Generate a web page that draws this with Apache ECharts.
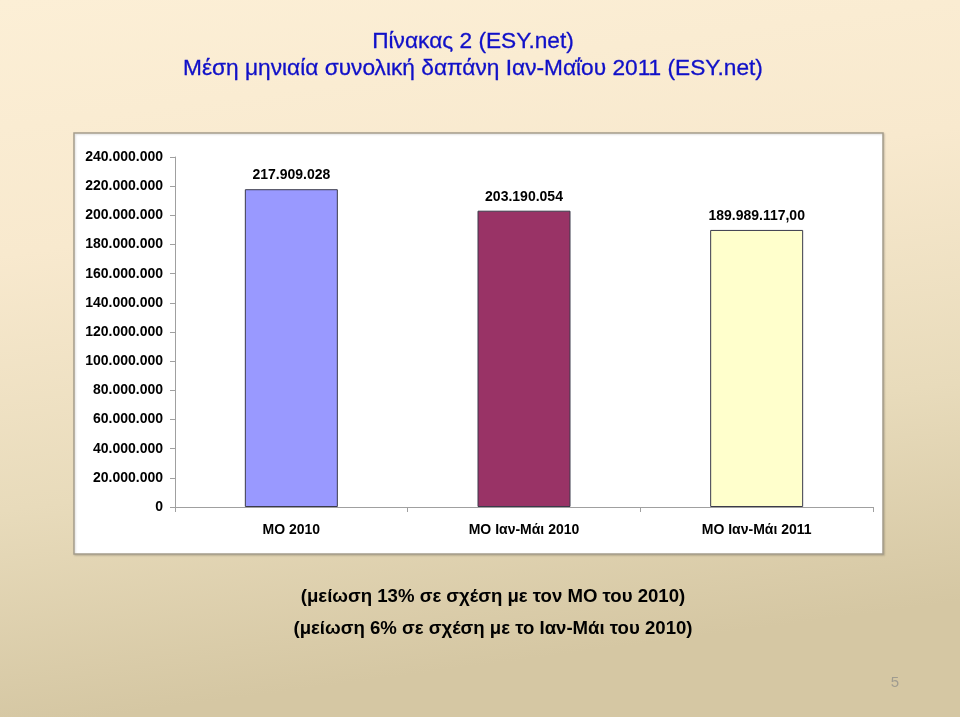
<!DOCTYPE html>
<html><head><meta charset="utf-8">
<script src="https://cdn.jsdelivr.net/npm/echarts@6/dist/echarts.min.js"></script>
<style>html,body{margin:0;padding:0;}#c{width:960px;height:717px;}</style>
</head><body><div id="c"></div>
<script>
var categories = ['ΜΟ 2010', 'ΜΟ Ιαν-Μάι 2010', 'ΜΟ Ιαν-Μάι 2011'];
var values = [217909028, 203190054, 189989117];
var labelDecimals = [0, 0, 2];
var barColors = ['#9999ff', '#993366', '#ffffcc'];
var titleLines = ['Πίνακας 2 (ESY.net)', 'Μέση μηνιαία συνολική δαπάνη Ιαν-Μαΐου 2011 (ESY.net)'];
var noteLines = ['(μείωση 13% σε σχέση με τον ΜΟ του 2010)', '(μείωση 6% σε σχέση με το Ιαν-Μάι του 2010)'];
var pageNumber = '5';

function fmt(v, dec) {
  var s = Math.round(v).toString().replace(/\B(?=(\d{3})+(?!\d))/g, '.');
  if (dec) s += ',' + '0'.repeat(dec);
  return s;
}

var chart = echarts.init(document.getElementById('c'));
var font = 'Liberation Sans, Arial, sans-serif';
chart.setOption({
  backgroundColor: {
    type: 'linear', x: 0, y: 0, x2: 0.1, y2: 1,
    colorStops: [
      {offset: 0, color: '#fcefd6'},
      {offset: 0.35, color: '#f8e9ce'},
      {offset: 0.7, color: '#e8dbbb'},
      {offset: 1, color: '#d5c7a3'}
    ]
  },
  title: [
    {text: titleLines[0], left: 473, top: 30.5, textAlign: 'center', padding: 0,
     textStyle: {color: '#1010c8', fontSize: 22.7, fontWeight: 'normal', fontFamily: font,
                 textBorderColor: '#1010c8', textBorderWidth: 0.3}},
    {text: titleLines[1], left: 473, top: 57.5, textAlign: 'center', padding: 0,
     textStyle: {color: '#1010c8', fontSize: 22.7, fontWeight: 'normal', fontFamily: font,
                 textBorderColor: '#1010c8', textBorderWidth: 0.3}},
    {text: noteLines[0], left: 493, top: 587, textAlign: 'center', padding: 0,
     textStyle: {color: '#000', fontSize: 18.6, fontWeight: 'bold', fontFamily: font}},
    {text: noteLines[1], left: 493, top: 619, textAlign: 'center', padding: 0,
     textStyle: {color: '#000', fontSize: 18.6, fontWeight: 'bold', fontFamily: font}},
    {text: pageNumber, left: 895, top: 675, textAlign: 'center', padding: 0,
     textStyle: {color: '#a09c90', fontSize: 15, fontWeight: 'normal', fontFamily: font}}
  ],
  graphic: [
    {type: 'rect', z: -10, silent: true,
     shape: {x: 74, y: 133, width: 809, height: 421},
     style: {fill: '#ffffff', stroke: '#a59d8c', lineWidth: 1.5,
             shadowColor: 'rgba(0,0,0,0.15)', shadowBlur: 2, shadowOffsetX: 1, shadowOffsetY: 1}}
  ],
  grid: {left: 175, right: 87, top: 157, bottom: 210},
  xAxis: {
    type: 'category', data: categories,
    axisLine: {lineStyle: {color: '#a0a0a0'}},
    axisTick: {show: true, length: 5, lineStyle: {color: '#a0a0a0'}},
    axisLabel: {color: '#000', fontSize: 14, fontWeight: 'bold', fontFamily: font, margin: 16}
  },
  yAxis: {
    type: 'value', min: 0, max: 240000000, interval: 20000000,
    axisLine: {show: true, lineStyle: {color: '#a0a0a0'}},
    axisTick: {show: true, length: 5, lineStyle: {color: '#a0a0a0'}},
    splitLine: {show: false},
    axisLabel: {color: '#000', fontSize: 14, fontWeight: 'bold', fontFamily: font, margin: 12,
                formatter: function (v) { return fmt(v, 0); }}
  },
  series: [{
    type: 'bar', barWidth: 93,
    data: values.map(function (v, i) {
      return {value: v, itemStyle: {color: barColors[i], borderColor: '#3a3a4a', borderWidth: 1}};
    }),
    label: {show: true, position: 'top', distance: 7, color: '#000', fontSize: 14, fontWeight: 'bold', fontFamily: font,
            formatter: function (p) { return fmt(p.value, labelDecimals[p.dataIndex]); }}
  }]
});
</script></body></html>
